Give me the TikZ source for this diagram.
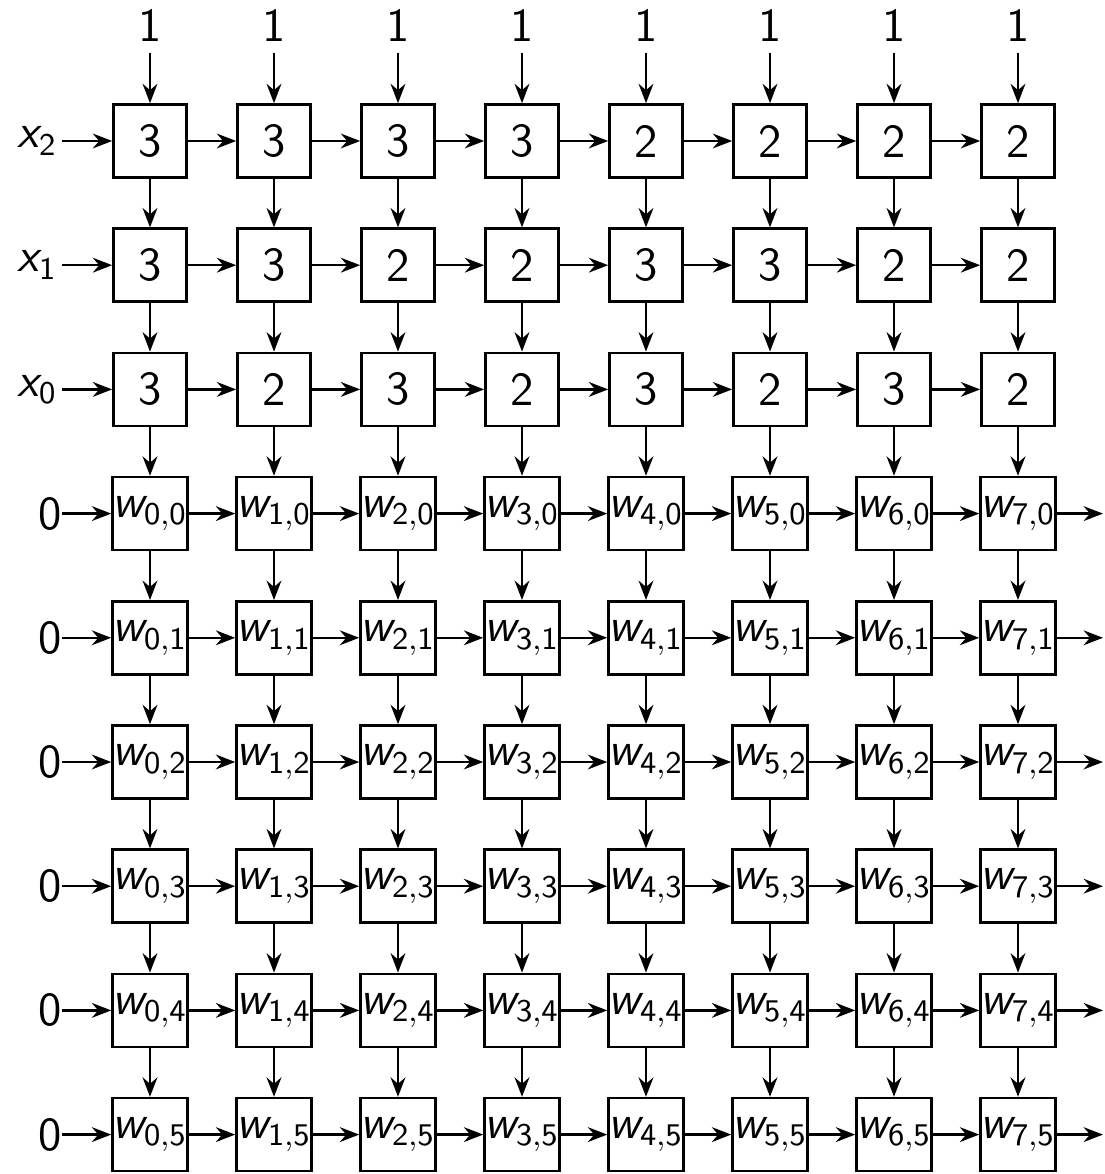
\documentclass[tikz,border=0pt]{standalone}
\usetikzlibrary{arrows.meta}

\tikzset{
  cell/.style={draw, line width=0.75pt, minimum size=0.73cm, inner sep=0pt,
    font=\sffamily\fontsize{13.5}{16}\selectfont},
  lab/.style={font=\sffamily\fontsize{13.5}{16}\selectfont},
  flow/.style={line width=0.7pt, -{Stealth[length=5.5pt,width=4.2pt,inset=1.8pt]}},
}
\newcommand{\wsub}[2]{{\slshape w}$_{\mathsf{#1,#2}}$}
\newcommand{\xsub}[1]{{\slshape x}$_{\mathsf{#1}}$}

\begin{document}
\begin{tikzpicture}
    \useasboundingbox (0,0) rectangle (11.05,11.74);
    % input rows
    \foreach \r/\vals in {0/{3,3,3,3,2,2,2,2},1/{3,3,2,2,3,3,2,2},2/{3,2,3,2,3,2,3,2}}{
        \foreach \v [count=\c from 0] in \vals
            \node[cell] (c-\c-\r) at ({1.50+1.24*\c},{10.33-1.242*\r}) {\v};
    }
    % weight rows
    \foreach \j in {0,...,5}{
        \foreach \c in {0,...,7}{
            \pgfmathtruncatemacro\r{\j+3}
            \node[cell] (c-\c-\r) at ({1.50+1.24*\c},{10.33-1.242*\r}) {\wsub{\c}{\j}};
        }
    }
    % ones on top
    \foreach \c in {0,...,7}{
        \node[lab, anchor=south, inner sep=3pt] (top-\c) at ({1.50+1.24*\c},11.21) {1};
        \draw[flow] (top-\c) -- (c-\c-0);
    }
    % left inputs
    \foreach \r/\t/\s in {0/\xsub{2}/1.2pt,1/\xsub{1}/1.2pt,2/\xsub{0}/1.2pt,3/0/0pt,4/0/0pt,5/0/0pt,6/0/0pt,7/0/0pt,8/0/0pt}{
        \node[lab, anchor=east, inner sep=\s] (in-\r) at (0.62,{10.33-1.242*\r}) {\t};
        \draw[flow] (in-\r.east) -- (c-0-\r);
    }
    % links between cells
    \foreach \r in {0,...,8}{
        \foreach \c in {0,...,6}{
            \pgfmathtruncatemacro\nxt{\c+1}
            \draw[flow] (c-\c-\r.east) -- (c-\nxt-\r.west);
        }
    }
    \foreach \r in {0,...,7}{
        \pgfmathtruncatemacro\nxt{\r+1}
        \foreach \c in {0,...,7}
            \draw[flow] (c-\c-\r.south) -- (c-\c-\nxt.north);
    }
    % outputs on the right
    \foreach \r in {3,...,8}{
        \coordinate (out-\r) at (11.03,{10.33-1.242*\r});
        \draw[flow] (c-7-\r.east) -- (out-\r);
    }
\end{tikzpicture}
\end{document}
